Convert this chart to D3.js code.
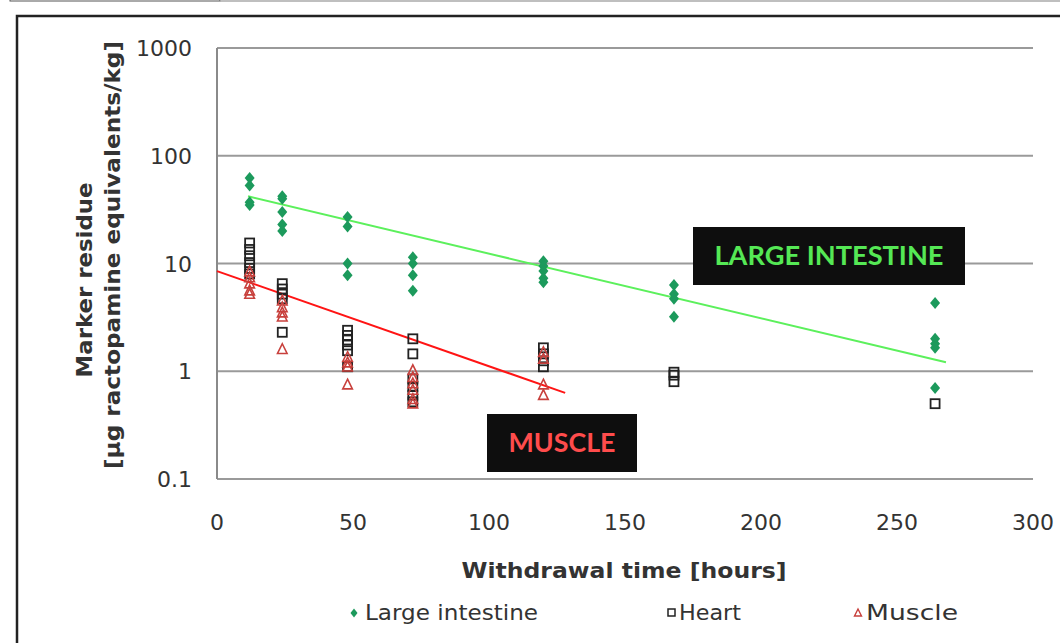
<!DOCTYPE html>
<html lang="en">
<head>
<meta charset="UTF-8">
<title>Marker residue vs withdrawal time</title>
<script src="https://cdn.jsdelivr.net/npm/d3@7"></script>
<style>
  body { margin: 0; background: #fff; }
  svg { display: block; font-family: "DejaVu Sans", Verdana, sans-serif; }
</style>
</head>
<body>
<svg width="1060" height="643"></svg>
<script>
// [hours, residue]
const largeIntestine = [
  [12, 62], [12, 53], [12, 37], [12, 35],
  [24, 42], [24, 40], [24, 30], [24, 23], [24, 20],
  [48, 27], [48, 22], [48, 10], [48, 7.8],
  [72, 11.4], [72, 10], [72, 7.8], [72, 5.6],
  [120, 10.5], [120, 9.5], [120, 8.5], [120, 7.3], [120, 6.7],
  [168, 6.3], [168, 5.2], [168, 4.7], [168, 3.2],
  [264, 4.3], [264, 2.0], [264, 1.8], [264, 1.65], [264, 0.7]
];
const heart = [
  [12, 15.5], [12, 13.5], [12, 11.8], [12, 10.2], [12, 9], [12, 8],
  [24, 6.5], [24, 5.8], [24, 5.2], [24, 4.7], [24, 2.3],
  [48, 2.4], [48, 2.15], [48, 1.95], [48, 1.75], [48, 1.55], [48, 1.1],
  [72, 2.0], [72, 1.45], [72, 0.85], [72, 0.72], [72, 0.6], [72, 0.52],
  [120, 1.65], [120, 1.45], [120, 1.25], [120, 1.1],
  [168, 0.98], [168, 0.92], [168, 0.8],
  [264, 0.5]
];
const muscle = [
  [12, 8.4], [12, 7.4], [12, 6.5], [12, 5.6], [12, 5.2],
  [24, 4.5], [24, 3.9], [24, 3.5], [24, 3.2], [24, 1.6],
  [48, 1.35], [48, 1.2], [48, 1.1], [48, 0.75],
  [72, 1.02], [72, 0.88], [72, 0.77], [72, 0.67], [72, 0.55], [72, 0.5],
  [120, 1.5], [120, 1.3], [120, 0.75], [120, 0.6]
];
// trendline end points
const trendLarge = [[11.4, 42], [268, 1.21]];
const trendMuscle = [[0, 8.5], [128, 0.63]];

const xTicks = [0, 50, 100, 150, 200, 250, 300];
const yTicks = [0.1, 1, 10, 100, 1000];

const svg = d3.select('svg');

// outer frame bits
svg.append('rect').attr('x', 10).attr('y', -2).attr('width', 210).attr('height', 3)
  .attr('fill', 'none').attr('stroke', '#555').attr('stroke-width', 1);
svg.append('line').attr('x1', 220).attr('x2', 1060).attr('y1', 1).attr('y2', 1)
  .attr('stroke', '#aaa').attr('stroke-width', 1.5);
svg.append('path').attr('d', 'M17,643 V16 H1062')
  .attr('fill', 'none').attr('stroke', '#222').attr('stroke-width', 2.5);

const x = d3.scaleLinear().domain([0, 300]).range([217, 1033]);
const y = d3.scaleLog().domain([0.1, 1000]).range([479, 48]);

// grid
svg.append('g').selectAll('line').data(yTicks).join('line')
  .attr('x1', x(0)).attr('x2', x(300))
  .attr('y1', d => y(d)).attr('y2', d => y(d))
  .attr('stroke', '#9a9a9a').attr('stroke-width', 2);
svg.append('line').attr('x1', x(0)).attr('x2', x(0)).attr('y1', y(1000)).attr('y2', y(0.1))
  .attr('stroke', '#8a8a8a').attr('stroke-width', 2);

// tick labels
svg.append('g').selectAll('text').data(yTicks).join('text')
  .attr('x', 192).attr('y', d => y(d) + 8)
  .attr('text-anchor', 'end').attr('font-size', 22).attr('fill', '#333')
  .text(d => d);
svg.append('g').selectAll('text').data(xTicks).join('text')
  .attr('x', d => x(d)).attr('y', 530)
  .attr('text-anchor', 'middle').attr('font-size', 22).attr('fill', '#333')
  .text(d => d);

// axis titles
svg.append('text').attr('transform', 'translate(92,280) rotate(-90)')
  .attr('text-anchor', 'middle').attr('font-size', 22).attr('font-weight', 'bold').attr('fill', '#333')
  .attr('textLength', 195).attr('lengthAdjust', 'spacingAndGlyphs')
  .text('Marker residue');
svg.append('text').attr('transform', 'translate(120,255) rotate(-90)')
  .attr('text-anchor', 'middle').attr('font-size', 22).attr('font-weight', 'bold').attr('fill', '#333')
  .attr('textLength', 428).attr('lengthAdjust', 'spacingAndGlyphs')
  .text('[µg ractopamine equivalents/kg]');
svg.append('text').attr('x', 624).attr('y', 578)
  .attr('text-anchor', 'middle').attr('font-size', 22).attr('font-weight', 'bold').attr('fill', '#333')
  .attr('textLength', 325).attr('lengthAdjust', 'spacingAndGlyphs')
  .text('Withdrawal time [hours]');

// trendlines
const line = d3.line().x(d => x(d[0])).y(d => y(d[1]));
svg.append('path').datum(trendLarge).attr('d', line)
  .attr('stroke', '#5cf05c').attr('stroke-width', 2).attr('fill', 'none');
svg.append('path').datum(trendMuscle).attr('d', line)
  .attr('stroke', '#ff1414').attr('stroke-width', 2).attr('fill', 'none');

// markers
const diamond = 'M0,-6 L5,0 L0,6 L-5,0 Z';
const triangle = 'M0,-5.5 L4.8,4.2 L-4.8,4.2 Z';

svg.append('g').selectAll('path').data(largeIntestine).join('path')
  .attr('d', diamond)
  .attr('transform', d => `translate(${x(d[0])},${y(d[1])})`)
  .attr('fill', '#1c9a5c');

svg.append('g').selectAll('rect').data(heart).join('rect')
  .attr('x', d => x(d[0]) - 4.5).attr('y', d => y(d[1]) - 4.5)
  .attr('width', 9).attr('height', 9)
  .attr('fill', 'none').attr('stroke', '#222').attr('stroke-width', 1.8);

svg.append('g').selectAll('path').data(muscle).join('path')
  .attr('d', triangle)
  .attr('transform', d => `translate(${x(d[0])},${y(d[1])})`)
  .attr('fill', 'none').attr('stroke', '#c8403c').attr('stroke-width', 1.6);

// annotation boxes
function label(x0, y0, w, h, txt, col, tw) {
  svg.append('rect').attr('x', x0).attr('y', y0).attr('width', w).attr('height', h).attr('fill', '#0e0e0e');
  svg.append('text').attr('x', x0 + w / 2).attr('y', y0 + h / 2 + 9)
    .attr('text-anchor', 'middle').attr('font-family', 'Lato, "Open Sans", sans-serif')
    .attr('font-weight', 'bold').attr('font-size', 26).attr('fill', col)
    .attr('textLength', tw).attr('lengthAdjust', 'spacingAndGlyphs')
    .text(txt);
}
label(693, 227, 272, 58, 'LARGE INTESTINE', '#55e855', 229);
label(487, 414, 150, 58, 'MUSCLE', '#ff4c4c', 107);

// legend
const leg = svg.append('g').attr('font-size', 21).attr('fill', '#333');
leg.append('path').attr('d', 'M0,-4.5 L3.5,0 L0,4.5 L-3.5,0 Z')
  .attr('transform', 'translate(354,613)').attr('fill', '#1c9a5c');
leg.append('text').attr('x', 365).attr('y', 620).attr('textLength', 173).attr('lengthAdjust', 'spacingAndGlyphs')
  .text('Large intestine');
leg.append('rect').attr('x', 668).attr('y', 609).attr('width', 7).attr('height', 7)
  .attr('fill', 'none').attr('stroke', '#222').attr('stroke-width', 1.5);
leg.append('text').attr('x', 679).attr('y', 620).attr('textLength', 62).attr('lengthAdjust', 'spacingAndGlyphs')
  .text('Heart');
leg.append('path').attr('d', 'M0,-4 L3.5,3 L-3.5,3 Z')
  .attr('transform', 'translate(858,613)').attr('fill', 'none').attr('stroke', '#c8403c').attr('stroke-width', 1.4);
leg.append('text').attr('x', 866).attr('y', 620).attr('textLength', 92).attr('lengthAdjust', 'spacingAndGlyphs')
  .text('Muscle');
</script>
</body>
</html>
